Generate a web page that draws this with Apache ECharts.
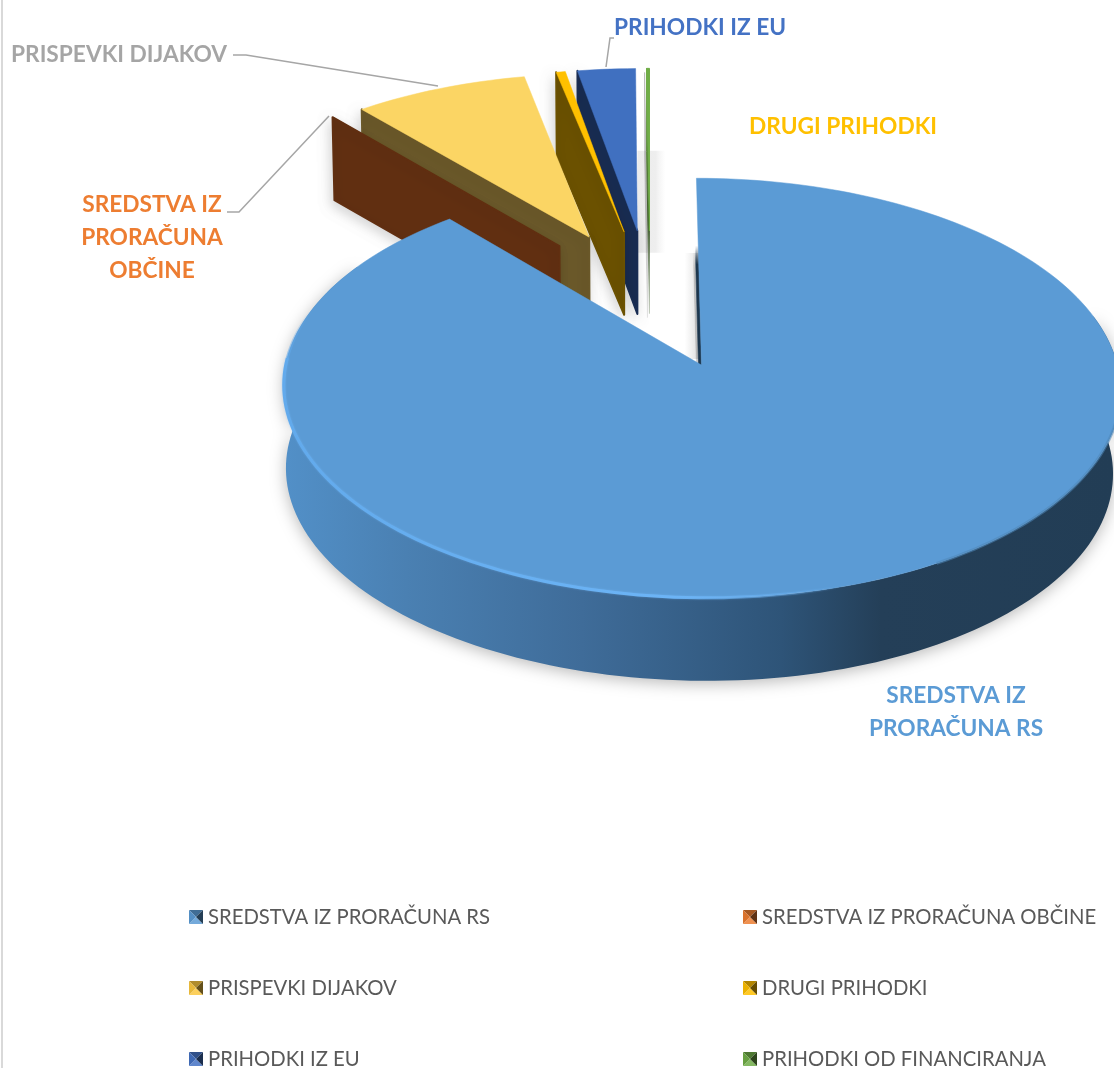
<!DOCTYPE html>
<html>
<head>
<meta charset="utf-8">
<style>html,body{margin:0;padding:0;background:#fff}#c{width:1114px;height:1068px}</style>
<script src="https://cdn.jsdelivr.net/npm/echarts@6/dist/echarts.min.js"></script>
</head>
<body>
<div id="c"></div>
<script>
// ---- data (percent shares) ----
const categories = ['SREDSTVA IZ PRORAČUNA RS','SREDSTVA IZ PRORAČUNA OBČINE','PRISPEVKI DIJAKOV','DRUGI PRIHODKI','PRIHODKI IZ EU','PRIHODKI OD FINANCIRANJA'];
const values = [88.8, 0.03, 7.95, 0.42, 2.65, 0.13];
const topColors = ['#5B9BD5','#ED7D31','#FBD564','#FFC000','#4070C0','#70AD47'];
const wallColors = ['#1F3A52','#612F11','#6A5829','#6B5100','#182C52','#3C5A28'];
const sliceLabels = ['SREDSTVA IZ\nPRORAČUNA RS','SREDSTVA IZ\nPRORAČUNA\nOBČINE','PRISPEVKI DIJAKOV','DRUGI PRIHODKI','PRIHODKI IZ EU'];
const labelColors = ['#5B9BD5','#ED7D31','#A5A5A5','#FFC000','#4472C4'];

// ---- 3D pie view ----
const view = {x0:650, y0:297.5, rx:401, ry:192.7, persp:0.1057, explode:0.36, depth:83, taperL:0.006, taperR:0.016};
const total = values.reduce((a,b)=>a+b,0);
const rad = d => d*Math.PI/180;
function project(U,V){const s=1/(1+view.persp*V);return [view.x0+view.rx*U*s, view.y0-view.ry*V*s];}
function sliceGeom(i){
  let cum=0; for(let k=0;k<i;k++) cum+=values[k];
  const a0=cum/total*360, a1=(cum+values[i])/total*360, mid=(a0+a1)/2;
  const ou=view.explode*Math.sin(rad(mid)), ov=view.explode*Math.cos(rad(mid));
  const pt=a=>project(ou+Math.sin(rad(a)), ov+Math.cos(rad(a)));
  return {a0,a1,apex:project(ou,ov),pt};
}
function arc(g,from,to){const n=Math.max(2,Math.ceil(Math.abs(to-from)/1.5));const r=[];for(let j=0;j<=n;j++)r.push(g.pt(from+(to-from)*j/n));return r;}
const down=p=>{const dx=p[0]-view.x0;return [p[0]-dx*(dx>0?view.taperR:view.taperL),p[1]+view.depth];};
const vGrad=(stops)=>({type:'linear',x:0,y:0,x2:0,y2:1,colorStops:stops});

function renderSlice(i){
  return function(params,api){
    const g=sliceGeom(i), kids=[];
    const outerStart=g.pt(g.a0);
    if(i===5){ // soft cast shadow behind the thin slice
      kids.push({type:'rect',shape:{x:g.apex[0]-12,y:g.apex[1]-80,width:28,height:102},style:{
        fill:{type:'linear',x:0,y:0,x2:1,y2:0,colorStops:[{offset:0,color:'#EBEBEB'},{offset:.65,color:'#EEEEEE'},{offset:1,color:'rgba(242,242,242,0)'}]}}});
    }
    if(i===0){ // soft cast shadow left of the main slice's start edge
      kids.push({type:'rect',shape:{x:g.apex[0]-17,y:g.apex[1]-112,width:16,height:106},style:{
        fill:{type:'linear',x:0,y:0,x2:1,y2:0,colorStops:[{offset:0,color:'rgba(225,225,225,0)'},{offset:1,color:'#D6D6D6'}]}}});
    }
    // radial wall on the start edge
    let wallFill = wallColors[i];
    if(i===5) wallFill=vGrad([{offset:0,color:'#70AD47'},{offset:.3,color:'#5C8A3C'},{offset:.62,color:'#3C5A28'},{offset:1,color:'rgba(150,165,140,0.35)'}]);
    if(i===0) wallFill=vGrad([{offset:0,color:'rgba(31,58,82,0)'},{offset:.25,color:'rgba(31,58,82,0)'},{offset:.32,color:'#1F3A52'},{offset:1,color:'#1F3A52'}]);
    const wallPts=[g.apex,outerStart,down(outerStart),down(g.apex)];
    kids.push({type:'polygon',shape:{points:wallPts},style:{fill:wallFill,stroke:wallFill,lineWidth:i===5?1:(i===0?0.6:2),lineJoin:'round',
      shadowColor:'rgba(0,0,0,0.16)',shadowBlur:(i===0||i===5)?0:12,shadowOffsetX:-2,shadowOffsetY:4}});
    if(i===0){
      const a=arc(g,76,300);
      const pts=a.concat(a.slice().reverse().map(down));
      kids.push({type:'polygon',shape:{points:pts},style:{
        fill:{type:'linear',global:true,x:282,y:0,x2:1114,y2:0,colorStops:[{offset:0,color:'#5290C8'},{offset:.15,color:'#4A80B2'},{offset:.36,color:'#3F6C99'},{offset:.6,color:'#2E5478'},{offset:.72,color:'#243F58'},{offset:1,color:'#223D55'}]},
        shadowColor:'rgba(0,0,0,0.28)',shadowBlur:16,shadowOffsetY:3}});
    }
    // top face
    const top=[g.apex].concat(arc(g,g.a0,g.a1));
    const st=i===1?{fill:wallColors[1]}:{fill:topColors[i],stroke:topColors[i],lineWidth:i===5?1:0.5};
    kids.push({type:'polygon',shape:{points:top},style:st});
    if(i===0){
      // soft edge on the dark side, bevel highlight on the light side
      kids.push({type:'polyline',shape:{points:arc(g,88,150)},style:{fill:null,lineWidth:3,stroke:'rgba(78,134,184,0.55)'}});
      kids.push({type:'polyline',shape:{points:arc(g,120,272)},style:{fill:null,lineWidth:3,
        stroke:{type:'linear',global:true,x:282,y:0,x2:840,y2:0,colorStops:[{offset:0,color:'#62AAEC'},{offset:.7,color:'#6CB4F6'},{offset:1,color:'rgba(108,180,246,0)'}]},
        shadowColor:'rgba(120,190,255,0.5)',shadowBlur:2}});
      kids.push({type:'polyline',shape:{points:arc(g,272,308)},style:{fill:null,lineWidth:3,
        stroke:{type:'linear',global:true,x:0,y:310,x2:0,y2:385,colorStops:[{offset:0,color:'rgba(98,170,236,0)'},{offset:1,color:'#62AAEC'}]}}});
    }
    return {type:'group',children:kids};
  };
}

// ---- legend markers (bevelled squares) ----
function shade(hex,f){const n=parseInt(hex.slice(1),16);const c=[n>>16,(n>>8)&255,n&255].map(v=>Math.min(255,Math.round(f>1?v+(255-v)*(f-1):v*f)));return 'rgb('+c.join(',')+')';}
const legendBase=['#5B9BD5','#ED7D31','#FBC840','#FFC000','#4472C4','#70AD47'];
function icon(i){const b=legendBase[i];
  const svg="<svg xmlns='http://www.w3.org/2000/svg' width='14' height='14'><path d='M0 0L14 0L7 7Z' fill='"+shade(b,.7)+"'/><path d='M0 14L14 14L7 7Z' fill='"+shade(b,1.15)+"'/><path d='M0 0L0 14L7 7Z' fill='"+shade(b,.92)+"'/><path d='M14 0L14 14L7 7Z' fill='"+shade(b,.4)+"'/></svg>";
  return 'image://data:image/svg+xml;charset=utf-8,'+encodeURIComponent(svg);}

const font='Lato, Carlito, sans-serif';
const legendLeft=[189,743], legendTop=[907,978,1049];
const legends=categories.map((name,i)=>({
  left:legendLeft[i%2], top:legendTop[Math.floor(i/2)], padding:0, itemWidth:14, itemHeight:14, selectedMode:false,
  data:[{name,icon:icon(i)}], textStyle:{color:'#595959',fontSize:20.3,fontFamily:font,lineHeight:14}
}));

const lab=(k,x,y,align)=>({type:'text',silent:true,style:{text:sliceLabels[k],x,y,fill:labelColors[k],font:'bold 22.7px '+font,textAlign:align,textVerticalAlign:'top',lineHeight:33}});
const leader=pts=>({type:'polyline',silent:true,shape:{points:pts},style:{fill:null,stroke:'#A6A6A6',lineWidth:1.5}});

const drawOrder=[5,4,3,2,1,0];
const option={
  animation:false,
  backgroundColor:'#fff',
  legend:legends,
  series:drawOrder.map(i=>({type:'custom',name:categories[i],coordinateSystem:'none',silent:true,clip:false,
    itemStyle:{color:topColors[i]},data:[[values[i]]],renderItem:renderSlice(i)})),
  graphic:{elements:[
    {type:'line',silent:true,shape:{x1:2,y1:0,x2:2,y2:1068},style:{stroke:'#D9D9D9',lineWidth:2}},
    leader([[233,55],[246,55],[438,86]]),
    leader([[227,212],[239,212],[329,116]]),
    leader([[606,67],[610,38],[614,38]]),
    lab(2,11,38,'left'),
    lab(1,152,188,'center'),
    lab(3,749,110,'left'),
    lab(4,614,11,'left'),
    lab(0,956,679,'center')
  ]}
};
const chart=echarts.init(document.getElementById('c'),null,{renderer:'canvas'});
chart.setOption(option);
</script>
</body>
</html>
